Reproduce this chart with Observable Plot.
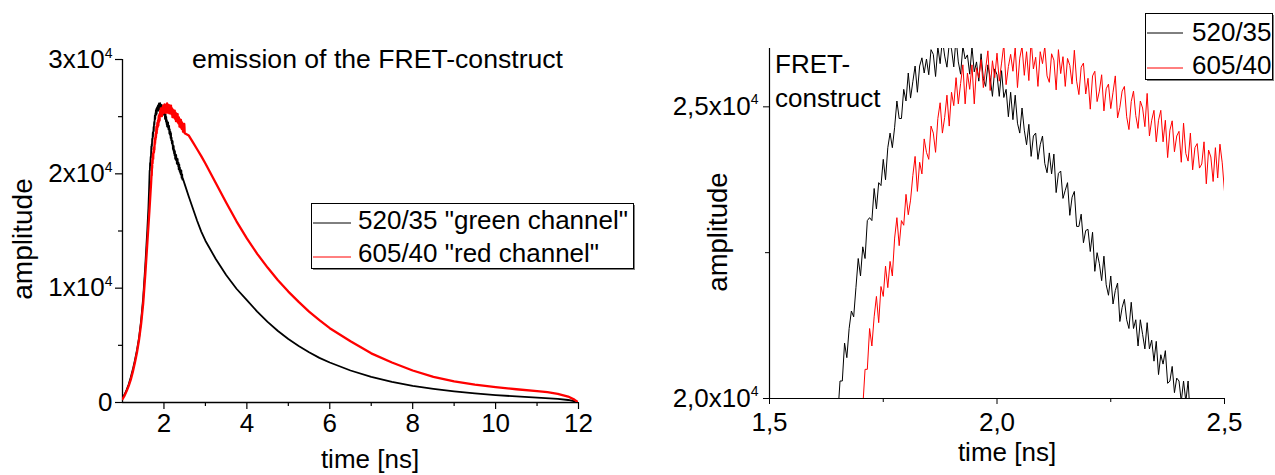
<!DOCTYPE html>
<html><head><meta charset="utf-8">
<script src="https://cdn.jsdelivr.net/npm/d3@7"></script>
<script src="https://cdn.jsdelivr.net/npm/@observablehq/plot@0.6"></script>
<style>
html,body{margin:0;padding:0;background:#fff;}
#wrap{position:relative;width:1275px;height:475px;overflow:hidden;background:#fff;font-family:"Liberation Sans",Arial,sans-serif;}
#wrap svg{position:absolute;top:0;}
</style></head>
<body><div id="wrap"></div>
<script>
// ---------- data (amplitude in counts, time in ns) ----------
const seriesNames = ['520/35 "green channel"', '605/40 "red channel"'];
const zoomSeriesNames = ["520/35", "605/40"];

// 520/35 (black) – rising edge
const greenRiseT = [1.0,1.05,1.1,1.15,1.2,1.25,1.3,1.35,1.4,1.45,1.5,1.55,1.6,1.625,1.64];
const greenRiseA = [400,700,1100,1600,2200,2900,3700,4600,5700,7200,9200,12000,15200,17000,18500];
// 520/35 – 5 ps channels from 1.650 ns
const greenChannelStart = 1.65;
const greenChannels = [
19700,20300,20300,20950,20700,21200,21500,21400,21900,22400,
22100,22600,22400,23050,23100,23050,23600,23250,23700,23650,
24100,23750,24300,24550,24300,24650,25100,24800,24800,25300,
25100,25580,25150,25430,25700,25250,25700,25840,25580,25820,
25550,25980,25900,25520,26030,25740,26160,25870,25680,26085,
25990,25685,26180,25770,25560,26040,25820,25890,25560,26030,
25600,25770,25440,25910,25480,25350,25720,25500,25180,25650,
25550,25180,25620,25160,25300,24830,25250,24780,25200,24720,
24550,24980,24600,24350,24700,24150,24500,24550,24100,24350,
24500,24030,23870,24210,23850,24190,23530,23860,23900,23430,
23570,23700,23140,23450,23550,22950,22950,23160,22670,22880,
22900,22520,22850,22180,22500,22310,22020,22440,21950,21770,
22100,21620,21850,21980,21320,21560,21700,21350,21200,21650,
21200,21350,20900,21350,21100,20850,21300,20850,21000,20640,
20980,20410,20750,20590,20820,20260,20300,20550,20100,20350,
20300,19950,20300,19950,20300,19650,19980,19720,19950,19500,
19650];
// 520/35 – tail
const greenTailT = [2.5,2.6,2.7,2.8,2.9,3.0,3.25,3.5,3.75,4.0,4.25,4.5,4.75,5.0,5.25,5.5,5.75,6.0,6.5,7.0,7.5,8.0,8.5,9.0,9.5,10.0,10.5,11.0,11.5,11.75,11.9,12.0];
const greenTailA = [19100,18000,16950,15900,14950,14150,12550,11150,9950,8950,7950,7050,6250,5550,4950,4400,3900,3500,2800,2250,1800,1450,1200,980,800,650,530,430,320,220,110,0];

// 605/40 (red) – rising edge
const redRiseT = [1.0,1.05,1.1,1.15,1.2,1.25,1.3,1.35,1.4,1.45,1.5,1.55,1.6,1.65,1.675,1.69];
const redRiseA = [300,600,1000,1450,2000,2700,3500,4400,5500,6900,8700,11200,14000,16800,18300,19200];
// 605/40 – 5 ps channels from 1.700 ns
const redChannelStart = 1.70;
const redChannels = [
19900,19850,20500,20500,21200,20900,21400,21750,21300,21920,
21750,22270,21900,22350,22100,22750,23100,22620,23050,22970,
23500,23150,23400,23820,24150,23550,24050,23850,24450,24220,
24100,24670,24550,24220,24800,25070,24550,24820,25200,24670,
25250,25020,25500,25050,25400,25720,25050,25580,25300,25720,
25050,25670,25500,25810,25330,25650,25960,25280,25790,25500,
25920,25440,25750,26070,25380,25690,25900,25610,26020,25330,
25835,26040,25540,25945,25450,26150,25650,25850,25350,25945,
25740,26035,25530,25420,25910,25800,25290,25980,25570,25860,
25350,25830,25710,25390,25970,25440,25210,25680,25750,25220,
25490,24960,25530,25610,25090,25270,25550,24930,25310,25390,
24970,25250,25530,24810,24990,25270,25350,24830,24610,25090,
25270,24850,24630,25100,24980,24660,25230,24500,24770,24940,
24400,24770,24940,24400,24770,24130,24600,24760,24230,24500,
24580,24050,24720,24200,24070,24550,23920,24300,24370,23950,
24020,24400,23680,24260,24140,23720,24300,23780,24360,24040,
23550];
// 605/40 – tail
const redTailT = [2.6,2.7,2.8,2.9,3.0,3.25,3.5,3.75,4.0,4.25,4.5,4.75,5.0,5.25,5.5,5.75,6.0,6.5,7.0,7.5,8.0,8.5,9.0,9.5,10.0,10.5,11.0,11.25,11.5,11.75,11.9,12.0];
const redTailA = [23350,22750,22150,21550,20900,19200,17500,15850,14350,13000,11800,10700,9700,8800,7950,7200,6500,5350,4300,3500,2800,2250,1850,1560,1340,1160,990,900,760,520,250,0];

const channelWidth = 0.005; // ns per TCSPC channel

// axes
const fullXDomain = [1, 12];
const fullYDomain = [0, 30000];
const fullXTicks = [2, 4, 6, 8, 10, 12];
const fullXMinor = [3, 5, 7, 9, 11];
const fullYTicks = [0, 10000, 20000, 30000];
const fullYLabels = ["0", "1x10^4", "2x10^4", "3x10^4"];
const fullYMinor = [5000, 15000, 25000];

const zoomXDomain = [1.5, 2.5];
const zoomYDomain = [20000, 26000];
const zoomXTicks = [1.5, 2.0, 2.5];
const zoomXLabels = ["1,5", "2,0", "2,5"];
const zoomXMinor = [1.75, 2.25];
const zoomYTicks = [20000, 25000];
const zoomYLabels = ["2,0x10^4", "2,5x10^4"];
const zoomYMinor = [22500];

// ---------- build tables ----------
function build(riseT, riseA, start, ch, tailT, tailA) {
  const rows = [];
  riseT.forEach((t, i) => rows.push({t, a: riseA[i]}));
  ch.forEach((a, i) => rows.push({t: +(start + i * channelWidth).toFixed(4), a}));
  tailT.forEach((t, i) => rows.push({t, a: tailA[i]}));
  return rows;
}
const green = build(greenRiseT, greenRiseA, greenChannelStart, greenChannels, greenTailT, greenTailA);
const red = build(redRiseT, redRiseA, redChannelStart, redChannels, redTailT, redTailA);

const FONT = '"Liberation Sans", Arial, sans-serif';
const style = {fontFamily: FONT, fontSize: "26px", background: "transparent", color: "#000", overflow: "visible"};
const axText = {fontSize: 26, fontFamily: FONT};

function supers(svg, supSize, supDy) {
  d3.select(svg).selectAll("text").each(function () {
    const s = this.textContent;
    if (s.includes("^")) {
      const [base, exp] = s.split("^");
      const el = d3.select(this);
      el.text(null);
      el.append("tspan").text(base);
      el.append("tspan").attr("dy", supDy).attr("font-size", supSize).text(exp);
    }
  });
}

const left = Plot.plot({
  width: 640, height: 475,
  marginLeft: 122, marginRight: 62, marginTop: 59, marginBottom: 73,
  x: {domain: fullXDomain},
  y: {domain: fullYDomain},
  style,
  marks: [
    Plot.axisX({ticks: fullXTicks, tickSize: 7, tickPadding: 4, tickFormat: d => String(d), label: null, strokeWidth: 1.2, ...axText}),
    Plot.axisX({ticks: fullXMinor, tickSize: 4, tickFormat: () => "", label: null, strokeWidth: 1.2}),
    Plot.axisY({ticks: fullYTicks, tickSize: 7, tickPadding: 3, tickFormat: d => fullYLabels[fullYTicks.indexOf(d)], label: null, strokeWidth: 1.2, ...axText}),
    Plot.axisY({ticks: fullYMinor, tickSize: 4, tickFormat: () => "", label: null, strokeWidth: 1.2}),
    Plot.ruleX([fullXDomain[0]], {strokeWidth: 1.3}),
    Plot.ruleY([fullYDomain[0]], {strokeWidth: 1.6}),
    Plot.line(green, {x: "t", y: "a", stroke: "#000", strokeWidth: 1.8, clip: true}),
    Plot.line(red, {x: "t", y: "a", stroke: "#ff0000", strokeWidth: 2.3, clip: true})
  ]
});
supers(left, 14, -10);
left.style.left = "0px";

const zoomGreen = green.filter(d => d.t >= zoomXDomain[0] - 0.05 && d.t <= zoomXDomain[1]);
const zoomRed = red.filter(d => d.t >= zoomXDomain[0] - 0.05 && d.t <= zoomXDomain[1]);

const right = Plot.plot({
  width: 635, height: 475,
  marginLeft: 129, marginRight: 51, marginTop: 48, marginBottom: 77,
  x: {domain: zoomXDomain},
  y: {domain: zoomYDomain},
  style,
  marks: [
    Plot.axisX({ticks: zoomXTicks, tickSize: 6, tickPadding: 8, tickFormat: d => zoomXLabels[zoomXTicks.indexOf(d)], label: null, ...axText}),
    Plot.axisX({ticks: zoomXMinor, tickSize: 4, tickFormat: () => "", label: null}),
    Plot.axisY({ticks: zoomYTicks, tickSize: 6, tickPadding: 5, tickFormat: d => zoomYLabels[zoomYTicks.indexOf(d)], label: null, ...axText}),
    Plot.axisY({ticks: zoomYMinor, tickSize: 4, tickFormat: () => "", label: null}),
    Plot.ruleX([zoomXDomain[0]], {strokeWidth: 1.2}),
    Plot.ruleY([zoomYDomain[0]], {strokeWidth: 1.2}),
    Plot.line(zoomGreen, {x: "t", y: "a", stroke: "#000", strokeWidth: 1, clip: true}),
    Plot.line(zoomRed, {x: "t", y: "a", stroke: "#ff0000", strokeWidth: 1, clip: true})
  ]
});
supers(right, 14, -11);
right.style.left = "640px";

const wrap = document.getElementById("wrap");
wrap.appendChild(left);
wrap.appendChild(right);

// ---------- annotations overlay (titles, axis labels, legends) ----------
const ov = d3.select(wrap).append("svg")
  .attr("width", 1275).attr("height", 475)
  .style("left", "0px").style("pointer-events", "none")
  .attr("font-family", FONT).attr("font-size", 26).attr("fill", "#000");

ov.append("text").attr("x", 192).attr("y", 68).attr("font-size", 26.6).text("emission of the FRET-construct");
ov.append("text").attr("transform", "translate(32,239) rotate(-90)").attr("text-anchor", "middle").attr("font-size", 28).text("amplitude");
ov.append("text").attr("x", 370).attr("y", 468).attr("text-anchor", "middle").text("time [ns]");
ov.append("text").attr("transform", "translate(727,232) rotate(-90)").attr("text-anchor", "middle").attr("font-size", 27.5).text("amplitude");
ov.append("text").attr("x", 1007).attr("y", 461).attr("text-anchor", "middle").text("time [ns]");
ov.append("text").attr("x", 775).attr("y", 73).text("FRET-");
ov.append("text").attr("x", 775).attr("y", 107).text("construct");

function legend(x0, y0, w, h, names, lineX0, lineX1, textX, lineYs, baseYs) {
  ov.append("rect").attr("x", x0 + 2).attr("y", y0 + 2).attr("width", w).attr("height", h).attr("fill", "#808080");
  ov.append("rect").attr("x", x0 + 0.5).attr("y", y0 + 0.5).attr("width", w).attr("height", h).attr("fill", "#fff").attr("stroke", "#000").attr("stroke-width", 1);
  const cols = ["#000", "#ff0000"];
  names.forEach((n, i) => {
    ov.append("line").attr("x1", lineX0).attr("x2", lineX1).attr("y1", lineYs[i]).attr("y2", lineYs[i]).attr("stroke", cols[i]).attr("stroke-width", 1);
    ov.append("text").attr("x", textX).attr("y", baseYs[i]).text(n);
  });
}
legend(311, 203, 322, 65, seriesNames, 313, 351, 358, [223, 257], [229, 262]);
legend(1145, 13, 127, 66, zoomSeriesNames, 1147, 1183, 1192, [33, 68], [41, 74]);
</script>
</body></html>
